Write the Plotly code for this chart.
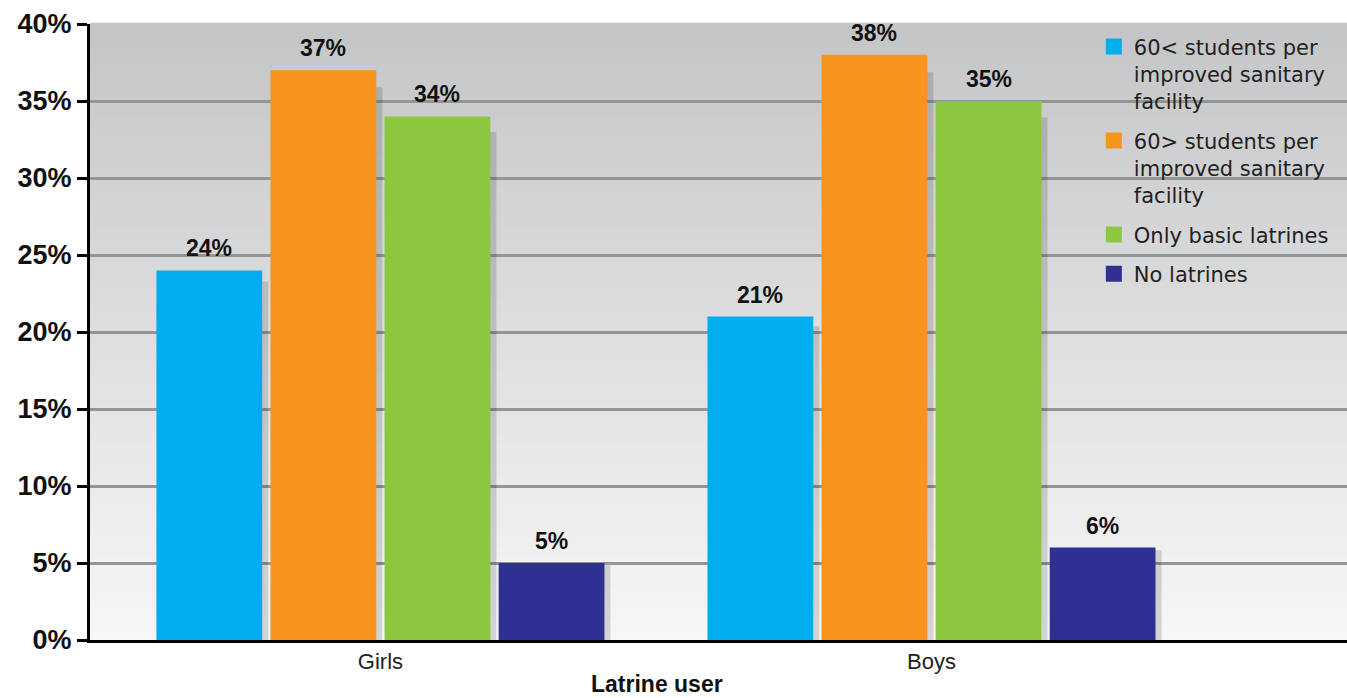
import plotly.graph_objects as go

categories = ["Girls", "Boys"]
series_names = [
    "60< students per<br>improved sanitary<br>facility",
    "60> students per<br>improved sanitary<br>facility",
    "Only basic latrines",
    "No latrines",
]
series_values = [
    [24, 21],
    [37, 38],
    [34, 35],
    [5, 6],
]
series_colors = ["#00aeef", "#f7941d", "#8dc63f", "#2e3192"]
y_ticks = [0, 5, 10, 15, 20, 25, 30, 35, 40]

W, H = 1347, 698
fig = go.Figure()

pitch = 0.207
bw = 0.192
start = -2 * pitch + (pitch - bw) / 2

# shadows
for i, vals in enumerate(series_values):
    fig.add_trace(go.Bar(
        x=categories, y=[v * 0.97 for v in vals],
        width=bw, offset=start + i * pitch + 0.011,
        marker=dict(color="rgba(0,0,0,0.14)", line=dict(width=0)),
        showlegend=False, hoverinfo="skip"))

annotations = []
for i, (name, vals, col) in enumerate(zip(series_names, series_values, series_colors)):
    fig.add_trace(go.Bar(
        x=categories, y=vals, name=name,
        width=bw, offset=start + i * pitch,
        marker=dict(color=col, line=dict(width=0)),
        showlegend=False))
    for j, v in enumerate(vals):
        annotations.append(dict(
            x=j + start + i * pitch + bw / 2, y=v, xref="x", yref="y",
            text=f"<b>{v}%</b>", showarrow=False, xanchor="center",
            yanchor="bottom", yshift=7,
            font=dict(family="Liberation Sans, Arial", size=23, color="#111")))
    fig.add_trace(go.Scatter(
        x=[None], y=[None], mode="markers", name=name,
        marker=dict(symbol="square", size=16, color=col),
        legendgroup=f"g{i}", showlegend=True))

annotations.append(dict(text="<b>Latrine user</b>", xref="paper", yref="paper",
                        x=0.451, y=-0.071, xanchor="center", yanchor="middle",
                        showarrow=False,
                        font=dict(family="Liberation Sans, Arial", size=23, color="#111")))

# gradient background
n = 60
top = (196, 197, 199)
bot = (247, 247, 247)
shapes = []
for k in range(n):
    t = (k + 0.5) / n
    c = tuple(int(round(bot[j] + (top[j] - bot[j]) * t)) for j in range(3))
    shapes.append(dict(type="rect", xref="paper", yref="paper",
                       x0=0, x1=1, y0=k / n, y1=(k + 1) / n + 0.002,
                       fillcolor=f"rgb{c}", line=dict(width=0), layer="below"))

fig.update_layout(
    width=W, height=H,
    margin=dict(l=90, r=0, t=24, b=58),
    paper_bgcolor="white", plot_bgcolor="rgba(0,0,0,0)",
    barmode="overlay",
    shapes=shapes,
    annotations=annotations,
    font=dict(family="Liberation Sans, Arial", color="#111"),
    legend=dict(x=0.7986, y=0.996, xanchor="left", yanchor="top", valign="top",
                bgcolor="rgba(0,0,0,0)", tracegroupgap=9,
                font=dict(family="DejaVu Sans", size=21, color="#231f20")),
    xaxis=dict(type="category", range=[-0.527, 1.754], showgrid=False,
               showline=True, linecolor="black", linewidth=3, ticks="",
               tickfont=dict(size=22, color="#222"), zeroline=False),
    yaxis=dict(range=[0, 40], tickvals=y_ticks, ticktext=[f"<b>{v}%</b>" for v in y_ticks],
               showgrid=True, gridcolor="#959595", gridwidth=2.5,
               showline=True, linecolor="black", linewidth=3,
               ticks="outside", ticklen=10, tickwidth=3, tickcolor="black",
               tickfont=dict(size=27, color="#111"), zeroline=False,
               automargin=False),
)

fig.write_html("out.html", config={"displayModeBar": False},
               post_script="document.body.style.margin='0';document.body.style.padding='0';")
